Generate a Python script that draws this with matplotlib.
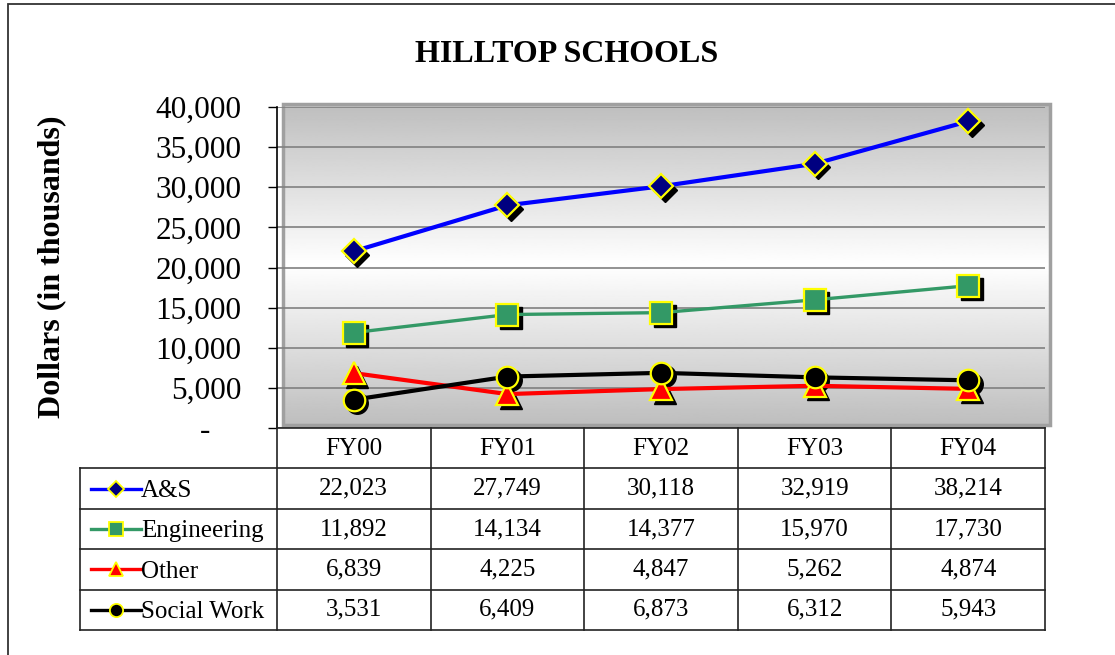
import numpy as np
import matplotlib.pyplot as plt
from matplotlib import transforms
from matplotlib.patches import Rectangle
from matplotlib.lines import Line2D

plt.rcParams.update({"font.family": "Liberation Serif", "mathtext.fontset": "stix"})

# data
years = ['FY00', 'FY01', 'FY02', 'FY03', 'FY04']
series_names = ['A&S', 'Engineering', 'Other', 'Social Work']
a_s = [22023, 27749, 30118, 32919, 38214]
engineering = [11892, 14134, 14377, 15970, 17730]
other = [6839, 4225, 4847, 5262, 4874]
social_work = [3531, 6409, 6873, 6312, 5943]
yticks = [0, 5000, 10000, 15000, 20000, 25000, 30000, 35000, 40000]

series = [a_s, engineering, other, social_work]
styles = [dict(color='#0000ff', marker='D', mfc='#000080', ms=12, lw=3.0, lms=8),
          dict(color='#339966', marker='s', mfc='#339966', ms=15.5, lw=2.4, lms=10.5),
          dict(color='#ff0000', marker='^', mfc='#ff0000', ms=16, lw=3.0, lms=10.5),
          dict(color='#000000', marker='o', mfc='#000000', ms=15.5, lw=3.0, lms=9.5)]

W, H = 1115, 655
fig = plt.figure(figsize=(W / 100, H / 100), dpi=100)

def box(l, t, r, b):
    return [l / W, 1 - b / H, (r - l) / W, (b - t) / H]

# gradient plot area
bg = fig.add_axes(box(283, 104, 1050, 425))
t = np.linspace(0, 1, 256)[:, None]
grad = 0.745 + 0.255 * (1 - np.abs(2 * t - 1))
bg.imshow(grad, aspect='auto', cmap='gray', vmin=0, vmax=1, extent=(0, 1, 0, 1))
bg.add_patch(Rectangle((0, 0), 1, 1, transform=bg.transAxes, fill=False,
                       ec='#a0a0a0', lw=2.5, clip_on=False))
bg.axis('off')

ax = fig.add_axes(box(277, 107, 1045, 428))
ax.set_facecolor('none')
x = np.arange(len(years))
shadow = transforms.offset_copy(ax.transData, fig=fig, x=3.5, y=-3.5, units='dots')
for vals, st in zip(series, styles):
    ax.plot(x, vals, ls='none', marker=st['marker'], ms=st['ms'], color='black',
            transform=shadow, zorder=2, clip_on=False)
for vals, st in zip(series, styles):
    ax.plot(x, vals, color=st['color'], lw=st['lw'], marker=st['marker'], ms=st['ms'],
            mfc=st['mfc'], mec='#ffff00', mew=1.6, zorder=3, clip_on=False)

ax.set_xlim(-0.5, 4.5)
ax.set_ylim(0, 40000)
ax.set_yticks(yticks)
ax.set_yticklabels([f'{v:,}' if v else '-    ' for v in yticks])
ax.tick_params(axis='y', direction='out', length=6.5, width=1, pad=19, labelsize=22.5)
ax.set_xticks([])
ax.yaxis.grid(True, color='#808080', lw=1.2)
ax.set_axisbelow(True)
for s in ['top', 'right', 'bottom']:
    ax.spines[s].set_visible(False)
ax.spines['left'].set_linewidth(1.2)

# data table
tax = fig.add_axes(box(80, 428, 1045, 630))
x0 = -0.5 - 197 / 153.6
tax.set_xlim(x0, 4.5)
tax.set_ylim(5, 0)
tax.axis('off')
kw = dict(color='#222222', lw=1.2, clip_on=False)
tax.plot([-0.5, 4.5], [0, 0], **kw)
for r in range(1, 6):
    tax.plot([x0, 4.5], [r, r], **kw)
for c in range(6):
    tax.plot([c - 0.5, c - 0.5], [0, 5], **kw)
tax.plot([x0, x0], [1, 5], **kw)
for i, yr in enumerate(years):
    tax.text(i, 0.52, yr, ha='center', va='center', fontsize=18)
for r, (name, vals, st) in enumerate(zip(series_names, series, styles)):
    yy = r + 1.5
    for i, v in enumerate(vals):
        tax.text(i, yy, f'{v:,}', ha='center', va='center', fontsize=18)
    lx = [x0 + 11 / 153.6, x0 + 36 / 153.6, x0 + 61 / 153.6]
    tax.add_line(Line2D(lx, [yy] * 3, color=st['color'], lw=2.4, marker=st['marker'],
                        ms=st['lms'], mfc=st['mfc'], mec='#ffff00', mew=1.3, markevery=[1]))
    tax.text(lx[2], yy + 0.06, name, ha='left', va='center', fontsize=18)

fig.text(567 / W, 1 - 62 / H, 'HILLTOP SCHOOLS', ha='center', va='baseline',
         fontsize=23, weight='bold')
fig.text(52 / W, 1 - 267 / H, 'Dollars (in thousands)', rotation=90, ha='center',
         va='center', fontsize=23, weight='bold')
fig.add_artist(Rectangle((8 / W, -0.1), 1.2, 1.1 - 4 / H, transform=fig.transFigure,
                         fill=False, ec='#333333', lw=1.3))

fig.savefig('out.png', dpi=100)
